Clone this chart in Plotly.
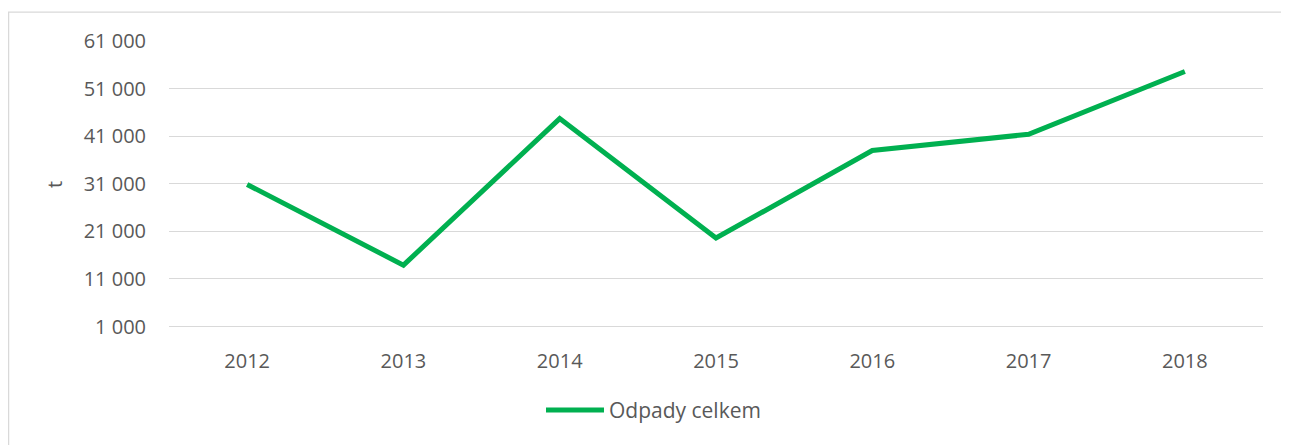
import plotly.graph_objects as go

years = ["2012", "2013", "2014", "2015", "2016", "2017", "2018"]
odpady_celkem = [30850, 13900, 44700, 19600, 38000, 41400, 54600]
y_tick_vals = [1000, 11000, 21000, 31000, 41000, 51000, 61000]
y_tick_text = ["1 000", "11 000", "21 000", "31 000", "41 000", "51 000", "61 000"]

OFF = 8  # page body margin
Y_MIN, Y_MAX = 700, 61000
W, H = 1289 - OFF, 445 - OFF
L, T = 169 - OFF, 41 - OFF
R = W - (1263 - OFF)
px_per_unit = 286 / 60000
extra = (1000 - Y_MIN) * px_per_unit
B = H - (327 - OFF) - extra
pw, ph = W - L - R, H - T - B

def px_x(p):
    return (p - OFF - L) / pw

def px_y(p):
    return (H - B - (p - OFF)) / ph

font_family = "Open Sans, Lato, sans-serif"
txt_color = "#595959"

fig = go.Figure()
fig.add_trace(go.Scatter(
    x=years, y=odpady_celkem, mode="lines", name="Odpady celkem",
    line=dict(color="#00B050", width=5),
))

fig.update_layout(
    width=W, height=H,
    margin=dict(l=L, r=R, t=T, b=B, pad=0),
    paper_bgcolor="white", plot_bgcolor="white",
    font=dict(family=font_family, size=20, color=txt_color),
    showlegend=True,
    legend=dict(orientation="h", x=px_x(541), xanchor="left",
                y=px_y(411), yanchor="middle", itemwidth=58,
                font=dict(size=21, color=txt_color),
                bgcolor="rgba(0,0,0,0)"),
    xaxis=dict(range=[-0.5, 6.5], showgrid=False, zeroline=False,
               showline=False, ticks="", type="category",
               tickfont=dict(size=20, color=txt_color),
               ticklabelstandoff=19),
    yaxis=dict(range=[Y_MIN, Y_MAX], tickvals=y_tick_vals, ticktext=y_tick_text,
               showgrid=True, gridcolor="#d9d9d9", gridwidth=1.3,
               zeroline=False, showline=False, ticks="",
               tickfont=dict(size=20, color=txt_color),
               ticklabelstandoff=22,
               title=dict(text="t", font=dict(size=20, color=txt_color),
                          standoff=15)),
    shapes=[dict(type="rect", xref="paper", yref="paper",
                 x0=px_x(8.6), x1=px_x(1300), y0=px_y(460), y1=px_y(12),
                 line=dict(color="#d9d9d9", width=1.3),
                 fillcolor="rgba(0,0,0,0)", layer="below")],
)

fig.write_html("out.html")
